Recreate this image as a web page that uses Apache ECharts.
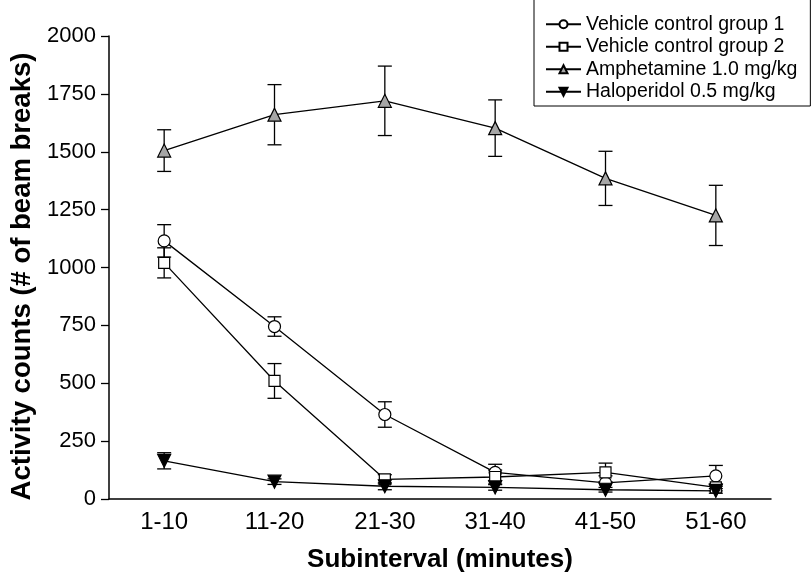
<!DOCTYPE html>
<html><head><meta charset="utf-8">
<script src="https://cdn.jsdelivr.net/npm/echarts@6/dist/echarts.min.js"></script>
<style>html,body{margin:0;padding:0;background:#fff}#c{width:812px;height:578px}</style>
</head><body><div id="c"></div>
<script>
var categories = ['1-10','11-20','21-30','31-40','41-50','51-60'];
var yTicks = [0,250,500,750,1000,1250,1500,1750,2000];
var veh1 = [1115, 745, 365, 115, 70, 100];
var veh1Err = [70, 42, 55, 35, 30, 45];
var veh2 = [1020, 510, 85, 95, 115, 50];
var veh2Err = [65, 75, 20, 30, 40, 15];
var amph = [1505, 1660, 1720, 1602, 1385, 1225];
var amphErr = [90, 130, 150, 122, 117, 130];
var halo = [165, 75, 55, 50, 40, 35];
var haloErr = [35, 12, 15, 12, 10, 10];

function errData(vals, errs){
  return vals.map(function(v,i){ return [i, v-errs[i], v+errs[i]]; });
}
function errSeries(vals, errs){
  return {
    type:'custom', silent:true, z:1,
    data: errData(vals, errs),
    encode:{x:0, y:[1,2]},
    renderItem:function(params, api){
      var lo = api.coord([api.value(0), api.value(1)]);
      var hi = api.coord([api.value(0), api.value(2)]);
      var w = 7;
      var st = {stroke:'#000', lineWidth:1.3};
      return {type:'group', children:[
        {type:'line', shape:{x1:lo[0],y1:lo[1],x2:hi[0],y2:hi[1]}, style:st},
        {type:'line', shape:{x1:hi[0]-w,y1:hi[1],x2:hi[0]+w,y2:hi[1]}, style:st},
        {type:'line', shape:{x1:lo[0]-w,y1:lo[1],x2:lo[0]+w,y2:lo[1]}, style:st}
      ]};
    }
  };
}
function lineSeries(name, vals, symbol, size, fill, rotate){
  return {
    name:name, type:'line', data:vals, z:3,
    symbol:symbol, symbolSize:size, symbolRotate:rotate||0, showAllSymbol:true,
    lineStyle:{color:'#000', width:1.3},
    itemStyle:{color:fill, borderColor:'#000', borderWidth:1.2},
    emphasis:{disabled:true}
  };
}
var chart = echarts.init(document.getElementById('c'));
var font = 'Liberation Sans, Arial, sans-serif';
chart.setOption({
  animation:false,
  textStyle:{fontFamily:font},
  grid:{left:105, right:41, top:36, bottom:79},
  legend:{
    data:['Vehicle control group 1','Vehicle control group 2','Amphetamine 1.0 mg/kg','Haloperidol 0.5 mg/kg'],
    orient:'vertical', left:534, top:-1,
    padding:[15,13,4,11], itemGap:2, itemWidth:35, itemHeight:10,
    borderColor:'#000', borderWidth:1, backgroundColor:'#fff',
    textStyle:{fontFamily:font, fontSize:19.5, lineHeight:20.5, color:'#000'}
  },
  xAxis:{
    type:'category', data:categories, boundaryGap:true,
    name:'Subinterval (minutes)', nameLocation:'middle', nameGap:48,
    nameTextStyle:{fontFamily:font, fontSize:26, fontWeight:'bold', color:'#000'},
    axisLine:{lineStyle:{color:'#000', width:1.5}},
    axisTick:{alignWithLabel:true, length:6, lineStyle:{color:'#000', width:1.3}},
    axisLabel:{fontFamily:font, fontSize:24, color:'#000', margin:11}
  },
  yAxis:{
    type:'value', min:yTicks[0], max:yTicks[yTicks.length-1], interval:250,
    name:'Activity counts (# of beam breaks)', nameLocation:'middle', nameGap:73,
    nameTextStyle:{fontFamily:font, fontSize:27.5, fontWeight:'bold', color:'#000', padding:[0,18,0,0]},
    axisLine:{show:true, lineStyle:{color:'#000', width:1.5}},
    axisTick:{show:true, length:8, lineStyle:{color:'#000', width:1.3}},
    axisLabel:{fontFamily:font, fontSize:22, color:'#000', margin:13, formatter:function(v){return String(v);}},
    splitLine:{show:false}
  },
  series:[
    errSeries(veh1, veh1Err), errSeries(veh2, veh2Err), errSeries(amph, amphErr), errSeries(halo, haloErr),
    lineSeries('Vehicle control group 1', veh1, 'circle', 12, '#fff'),
    lineSeries('Vehicle control group 2', veh2, 'rect', 11, '#fff'),
    lineSeries('Amphetamine 1.0 mg/kg', amph, 'triangle', 13, '#a6a6a6'),
    lineSeries('Haloperidol 0.5 mg/kg', halo, 'triangle', 13, '#000', 180)
  ]
});
</script></body></html>
